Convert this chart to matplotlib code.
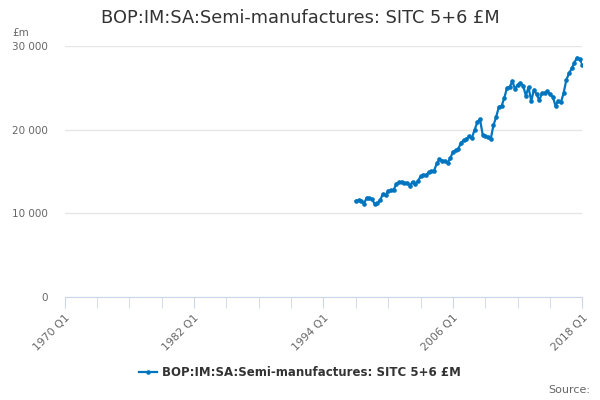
import matplotlib.pyplot as plt
import numpy as np

# Data: quarterly, 1997 Q1 .. 2018 Q1
START_YEAR = 1997
valores = [
    11480, 11550, 11500, 11150, 11850, 11800, 11650, 11100, 11250, 11550,
    12300, 12150, 12700, 12750, 12800, 13500, 13700, 13750, 13600, 13650,
    13300, 13750, 13500, 13850, 14400, 14600, 14550, 14900, 15000, 15100,
    15950, 16450, 16300, 16250, 16050, 16550, 17350, 17500, 17700, 18450,
    18700, 18850, 19200, 19000, 19950, 20850, 21250, 19400, 19200, 19050,
    18900, 20500, 21500, 22700, 22800, 23750, 24950, 25100, 25750, 24850,
    25350, 25600, 25250, 24050, 25050, 23400, 24750, 24200, 23500, 24350,
    24400, 24550, 24200, 23900, 22850, 23450, 23250, 24350, 25900, 26700,
    27300, 28000, 28600, 28400, 27750,
]
tick_anos = [1970, 1982, 1994, 2006, 2018]
tick_labels = ["1970 Q1", "1982 Q1", "1994 Q1", "2006 Q1", "2018 Q1"]
y_ticks = [0, 10000, 20000, 30000]
y_labels = ["0", "10 000", "20 000", "30 000"]

titulo = "BOP:IM:SA:Semi-manufactures: SITC 5+6 £M"
COR = "#0075bf"

xs = START_YEAR + np.arange(len(valores)) / 4.0

fig = plt.figure(figsize=(6, 4), dpi=100)
ax = fig.add_axes([0.1075, 0.2575, 0.8633, 0.628])

ax.plot(xs, valores, color=COR, lw=1.6, marker="o", ms=2.3, label=titulo)

ax.set_xlim(1970, 2018)
ax.set_ylim(0, 30000)
ax.set_yticks(y_ticks)
ax.set_yticklabels(y_labels)
ax.set_xticks(tick_anos)
ax.set_xticklabels(tick_labels, rotation=45, ha="right", rotation_mode="anchor")
ax.set_xticks(np.arange(1970, 2019, 3), minor=True)

ax.grid(axis="y", color="#e6e6e6", lw=1)
ax.set_axisbelow(True)
for s in ["top", "right", "left"]:
    ax.spines[s].set_visible(False)
ax.spines["bottom"].set_color("#ccd6eb")
ax.tick_params(axis="y", length=0, labelsize=7.5, labelcolor="#666666", pad=12)
ax.tick_params(axis="x", which="both", length=8, color="#ccd6eb",
               labelsize=7.8, labelcolor="#666666")

fig.text(0.5, 0.955, titulo, ha="center", va="center", fontsize=12.8, color="#333333")
fig.text(0.02, 0.918, "£m", ha="left", va="center", fontsize=7.5, color="#666666")
fig.text(0.983, 0.025, "Source:", ha="right", va="center", fontsize=8, color="#666666")

leg = fig.legend(loc="center", bbox_to_anchor=(0.5, 0.068), frameon=False,
                 fontsize=8.5, handlelength=1.5, handletextpad=0.4)
for t in leg.get_texts():
    t.set_fontweight("bold")
    t.set_color("#333333")

fig.savefig("out.png", dpi=100)
